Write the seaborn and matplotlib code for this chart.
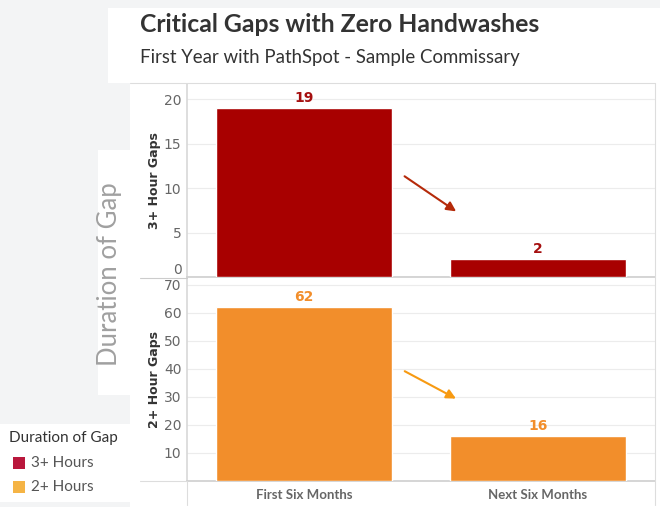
import matplotlib
matplotlib.use("Agg")
import matplotlib.pyplot as plt
from matplotlib.patches import Rectangle
import pandas as pd
import seaborn as sns

# data
periods = ["First Six Months", "Next Six Months"]
gaps_3h = [19, 2]
gaps_2h = [62, 16]
legend_labels = ["3+ Hours", "2+ Hours"]
top_ticks = [0, 5, 10, 15, 20]
bottom_ticks = [10, 20, 30, 40, 50, 60, 70]

RED = "#a80000"
ORANGE = "#f28e2b"
RED_LEG = "#b9173c"
ORANGE_LEG = "#f5b445"
GRID = "#ececec"
TICK = "#666666"

sns.set_theme(style="white")
plt.rcParams["font.family"] = ["Lato", "DejaVu Sans"]

W, H = 660, 507
fig = plt.figure(figsize=(W / 100, H / 100), dpi=100, facecolor="#f3f4f5")


def fx(px):
    return px / W


def fy(py):
    return 1 - py / H


def backdrop(x0, y0, x1, y1):
    # white layout panels drawn underneath the axes
    fig.patches.append(Rectangle((fx(x0), fy(y1)), fx(x1 - x0), (y1 - y0) / H,
                                 transform=fig.transFigure, facecolor="white",
                                 edgecolor="none", zorder=-5))


backdrop(130, 8, 660, 507)
backdrop(98, 150, 130, 395)
backdrop(0, 424, 136, 502)
backdrop(108, 8, 660, 83)

fig.text(fx(140), fy(25), "Critical Gaps with Zero Handwashes", fontsize=17.8,
         fontweight="bold", color="#333333", va="center", ha="left")
fig.text(fx(140), fy(57), "First Year with PathSpot - Sample Commissary", fontsize=13.4,
         color="#333333", va="center", ha="left")

ax_top = fig.add_axes([fx(187), fy(277), fx(468), (277 - 84) / H])
ax_bot = fig.add_axes([fx(187), fy(481), fx(468), (481 - 279) / H])

df = pd.DataFrame({"period": periods, "g3": gaps_3h, "g2": gaps_2h})

sns.barplot(data=df, x="period", y="g3", color=RED, saturation=1, width=0.75,
            ax=ax_top, zorder=3)
sns.barplot(data=df, x="period", y="g2", color=ORANGE, saturation=1, width=0.75,
            ax=ax_bot, zorder=3)

ax_top.bar_label(ax_top.containers[0], labels=[str(v) for v in gaps_3h], padding=2,
                 color="#a50f0f", fontsize=10, fontweight="bold",
                 family=["DejaVu Sans"])
ax_bot.bar_label(ax_bot.containers[0], labels=[str(v) for v in gaps_2h], padding=2,
                 color=ORANGE, fontsize=10, fontweight="bold",
                 family=["DejaVu Sans"])

for ax, ticks, ylim, lab in [(ax_top, top_ticks, (0, 21.7), "3+ Hour Gaps"),
                             (ax_bot, bottom_ticks, (0, 72), "2+ Hour Gaps")]:
    ax.set_xlim(-0.5, 1.5)
    ax.set_ylim(*ylim)
    ax.set_yticks(ticks)
    ax.set_yticklabels([str(t) for t in ticks], fontsize=10, color=TICK,
                       family=["DejaVu Sans"])
    ax.tick_params(axis="y", length=0, pad=4)
    ax.grid(axis="y", color=GRID, linewidth=0.8, zorder=0)
    ax.set_facecolor("white")
    for side in ["top", "right"]:
        ax.spines[side].set_visible(False)
    ax.spines["left"].set_color("#d9d9d9")
    ax.spines["bottom"].set_color("#d0d0d0")
    ax.set_ylabel(lab, fontsize=9, fontweight="bold", color="#333333", labelpad=2,
                  family=["DejaVu Sans"])
    ax.set_xlabel("")

# keep the "0" label inside the top pane
ax_top.get_yticklabels()[0].set_va("bottom")
ax_top.set_xticks([])
ax_bot.set_xticks(range(len(periods)))
ax_bot.set_xticklabels(periods, fontsize=9.5, fontweight="bold", color=TICK)
ax_bot.tick_params(axis="x", length=0, pad=6)

# trend arrows
ax_top.annotate("", xy=(0.66, 7.2), xytext=(0.42, 11.5),
                arrowprops=dict(arrowstyle="-|>", color="#b52a0a", lw=1.5,
                                mutation_scale=14))
ax_bot.annotate("", xy=(0.66, 28.9), xytext=(0.42, 39.6),
                arrowprops=dict(arrowstyle="-|>", color="#f79a12", lw=1.5,
                                mutation_scale=14))

# frame lines from the dashboard layout
fig.add_artist(plt.Line2D([fx(130), fx(655)], [fy(83), fy(83)], color="#dddddd", lw=0.8))
fig.add_artist(plt.Line2D([fx(655), fx(655)], [fy(83), fy(505)], color="#dddddd", lw=0.8))
fig.add_artist(plt.Line2D([fx(187), fx(187)], [fy(481), fy(505)], color="#dddddd", lw=0.8))
fig.add_artist(plt.Line2D([fx(140), fx(187)], [fy(277.5), fy(277.5)], color="#cccccc", lw=0.8))
fig.add_artist(plt.Line2D([fx(140), fx(187)], [fy(481), fy(481)], color="#dddddd", lw=0.8))

fig.text(fx(110), fy(274), "Duration of Gap", rotation=90, fontsize=18.5, color="#a0a0a0",
         va="center", ha="center")

# legend
fig.text(fx(9), fy(438), "Duration of Gap", fontsize=11, color="#333333", va="center")
for i, (name, col) in enumerate(zip(legend_labels, [RED_LEG, ORANGE_LEG])):
    yy = 463 + i * 24
    fig.patches.append(Rectangle((fx(13), fy(yy + 6)), fx(12), 12 / H,
                                 transform=fig.transFigure, facecolor=col,
                                 edgecolor="none"))
    fig.text(fx(31), fy(yy), name, fontsize=11, color="#555555", va="center")

fig.savefig("out.png", dpi=100, facecolor=fig.get_facecolor())
